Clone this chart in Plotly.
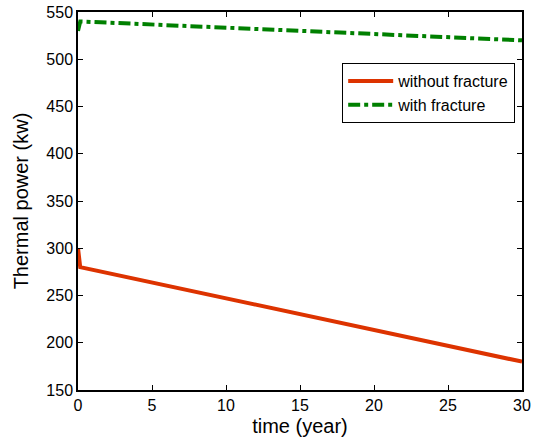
import plotly.graph_objects as go

time_year = [0, 0.15, 30]
without_fracture = [300, 280, 180]
with_fracture = [530, 540, 520]

FONT = "Liberation Sans, Arial"

fig = go.Figure()
fig.add_trace(go.Scatter(x=time_year, y=without_fracture, mode="lines", name="without fracture",
                         line=dict(color="#dd3300", width=4)))
fig.add_trace(go.Scatter(x=time_year, y=with_fracture, mode="lines", name="with fracture",
                         line=dict(color="#008000", width=4, dash="dashdot")))

axis_common = dict(showline=True, linecolor="black", linewidth=1.5, mirror="ticks",
                   ticks="inside", ticklen=5, tickcolor="black", showgrid=False, zeroline=False,
                   automargin=False,
                   tickfont=dict(family=FONT, size=16, color="black"))
fig.update_xaxes(range=[0, 30], tickvals=[0, 5, 10, 15, 20, 25, 30],
                 title=dict(text="time (year)", font=dict(family=FONT, size=20, color="black"), standoff=6),
                 **axis_common)
fig.update_yaxes(range=[150, 550], tickvals=list(range(150, 551, 50)),
                 title=dict(text="Thermal power (kw)", font=dict(family=FONT, size=20, color="black"), standoff=12),
                 **axis_common)
fig.update_layout(width=537, height=439, margin=dict(l=78, r=15, t=12, b=49),
                  plot_bgcolor="white", paper_bgcolor="white",
                  legend=dict(x=0.595, y=0.865, xanchor="left", yanchor="top", bgcolor="white",
                              bordercolor="black", borderwidth=1, tracegroupgap=0,
                              itemwidth=45,
                              font=dict(family=FONT, size=16, color="black")))
fig.write_html("out.html")
